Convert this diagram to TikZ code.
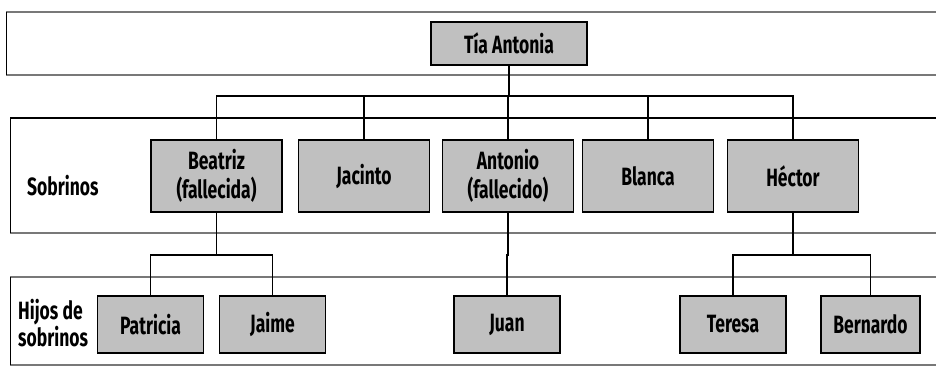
\documentclass[tikz,border=0pt]{standalone}
\usepackage{fontspec}
\setsansfont{Fira Sans}[FakeStretch=0.7]
\usepackage{xcolor}
\usepackage{tikz}
\usetikzlibrary{trees,positioning}

\definecolor{boxgray}{RGB}{192,192,192}
\definecolor{bandgray}{RGB}{120,120,120}

\begin{document}
\begin{tikzpicture}[x=1pt, y=1pt,
  persona/.style={draw, line width=1.6pt, fill=boxgray, align=center,
    inner sep=0pt, font=\sffamily\bfseries\fontsize{25}{29}\selectfont},
  tia/.style={persona, minimum width=156pt, minimum height=43pt},
  sobrino/.style={persona, minimum width=131pt, minimum height=72pt},
  hijo/.style={persona, minimum width=106pt, minimum height=57pt},
  etiqueta/.style={align=left, inner sep=0pt,
    font=\sffamily\bfseries\fontsize{25}{27}\selectfont},
  banda/.style={bandgray, line width=2.5pt},
  edge from parent/.style={draw, line width=1.6pt},
  level 1/.style={level distance=132.5pt, sibling distance=145pt,
    edge from parent path={(\tikzparentnode.south) -- ++(0,-30pt)
      -| (\tikzchildnode.north)}},
  level 2/.style={level distance=148.5pt, sibling distance=122pt,
    edge from parent path={(\tikzparentnode.south) -- ++(0,-42pt)
      -| (\tikzchildnode.north)}}
]
\useasboundingbox (0,0) rectangle (936,-367);

\draw[banda] (6,-12) -- (945,-12);
\draw[banda] (6,-75) -- (945,-75);
\draw[line width=0.8pt] (6,-12) -- (6,-75);
\draw[line width=2.5pt] (10,-118) -- (945,-118);
\draw[banda] (10,-233) -- (945,-233);
\draw[line width=0.8pt] (10,-118) -- (10,-233);
\draw[banda] (10,-277) -- (945,-277);
\draw[banda] (10,-365) -- (945,-365);
\draw[line width=0.8pt] (10,-277) -- (10,-365);

\node[etiqueta, anchor=west] (sobrinos) at (27,-186) {Sobrinos};
\node[etiqueta, anchor=west] (hijos) at (18,-323) {Hijos de\\sobrinos};

\node[tia] (tia) at (509,-43.5) {Tía Antonia}
  child { node[sobrino, xshift=-2.5pt] (beatriz) {Beatriz\\(fallecida)}
    child { node[hijo, xshift=-5pt] (patricia) {Patricia} }
    child { node[hijo, xshift=-5pt] (jaime) {Jaime} }
  }
  child { node[sobrino] (jacinto) {Jacinto} }
  child { node[sobrino, xshift=-1pt] (antonio) {Antonio\\(fallecido)}
    child { node[hijo, xshift=-1pt] (juan) {Juan} }
  }
  child { node[sobrino, xshift=-6pt] (blanca) {Blanca} }
  child { node[sobrino, xshift=-6pt] (hector) {Héctor}
    child { node[hijo, xshift=1pt] (teresa) {Teresa} }
    child { node[hijo, xshift=16.5pt, minimum width=99pt] (bernardo) {Bernardo} }
  };
\end{tikzpicture}
\end{document}
